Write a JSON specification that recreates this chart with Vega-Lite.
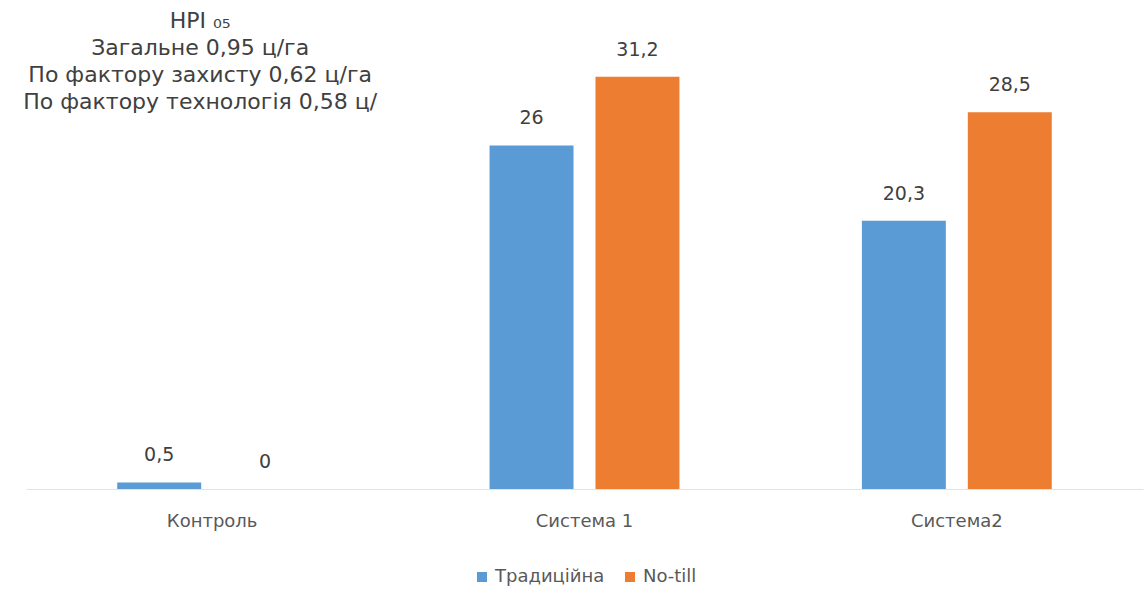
{
  "$schema": "https://vega.github.io/schema/vega-lite/v6.json",
  "width": 1117,
  "height": 489,
  "autosize": {"type": "none"},
  "padding": {"left": 26, "top": 0, "right": 2, "bottom": 107},
  "background": "white",
  "config": {
    "view": {"stroke": null},
    "legend": {"layout": {"bottom": {"anchor": "middle"}}}
  },
  "datasets": {
    "bars": [
      {"cat": "Контроль", "series": "Традиційна", "value": 0.5, "label": "0,5"},
      {"cat": "Контроль", "series": "No-till", "value": 0, "label": "0"},
      {"cat": "Система 1", "series": "Традиційна", "value": 26, "label": "26"},
      {"cat": "Система 1", "series": "No-till", "value": 31.2, "label": "31,2"},
      {"cat": "Система2", "series": "Традиційна", "value": 20.3, "label": "20,3"},
      {"cat": "Система2", "series": "No-till", "value": 28.5, "label": "28,5"}
    ],
    "notes": [
      {"cat": "Контроль", "txt": "НРІ ₀₅\nЗагальне 0,95 ц/га\nПо фактору захисту 0,62 ц/га\nПо фактору технологія 0,58 ц/"}
    ]
  },
  "layer": [
    {
      "data": {"name": "bars"},
      "mark": {"type": "bar"},
      "encoding": {
        "x": {
          "field": "cat", "type": "nominal",
          "sort": ["Контроль", "Система 1", "Система2"],
          "scale": {"paddingInner": 0.49, "paddingOuter": 0.245},
          "axis": {
            "title": null, "labelAngle": 0, "ticks": false,
            "labelFontSize": 18, "labelFont": "DejaVu Sans", "labelColor": "#595959",
            "domainColor": "#e3e3e3", "labelPadding": 23
          }
        },
        "xOffset": {
          "field": "series", "type": "nominal",
          "sort": ["Традиційна", "No-till"],
          "scale": {"paddingInner": 0.2075, "paddingOuter": 0}
        },
        "y": {
          "field": "value", "type": "quantitative",
          "scale": {"domain": [0, 37], "nice": false},
          "axis": null
        },
        "color": {
          "field": "series", "type": "nominal",
          "sort": ["Традиційна", "No-till"],
          "scale": {"domain": ["Традиційна", "No-till"], "range": ["#5B9BD5", "#ED7D31"]},
          "legend": {
            "title": null, "orient": "bottom", "direction": "horizontal",
            "symbolType": "square", "symbolSize": 100, "symbolStrokeWidth": 0,
            "labelFontSize": 18, "labelFont": "DejaVu Sans", "labelColor": "#595959",
            "columnPadding": 16, "offset": 38
          }
        }
      }
    },
    {
      "data": {"name": "bars"},
      "mark": {"type": "text", "baseline": "alphabetic", "dy": -21, "fontSize": 19, "font": "DejaVu Sans", "color": "#404040"},
      "encoding": {
        "x": {"field": "cat", "type": "nominal", "sort": ["Контроль", "Система 1", "Система2"]},
        "xOffset": {"field": "series", "type": "nominal", "sort": ["Традиційна", "No-till"]},
        "y": {"field": "value", "type": "quantitative"},
        "text": {"field": "label"}
      }
    },
    {
      "data": {"name": "notes"},
      "mark": {"type": "text", "baseline": "top", "align": "center", "lineBreak": "\n", "lineHeight": 27, "dx": -12, "fontSize": 22, "font": "DejaVu Sans", "color": "#404040"},
      "encoding": {
        "x": {"field": "cat", "type": "nominal", "sort": ["Контроль", "Система 1", "Система2"]},
        "y": {"datum": 36.15},
        "text": {"field": "txt"}
      }
    }
  ]
}
